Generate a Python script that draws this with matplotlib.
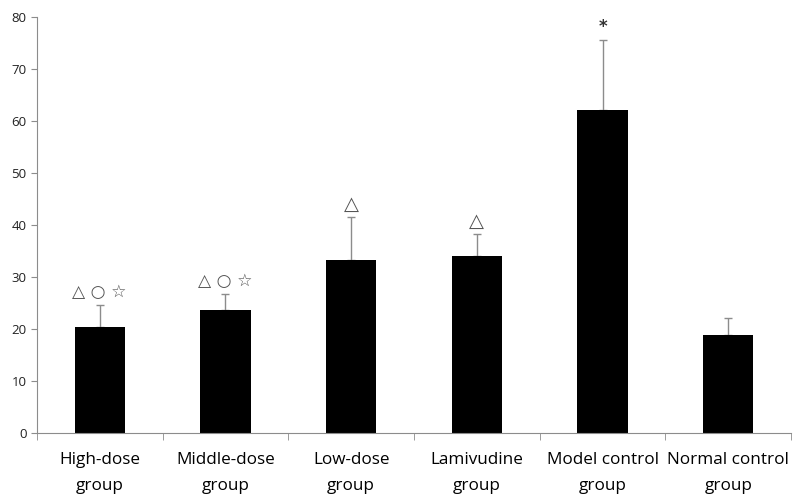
import numpy as np
import matplotlib.pyplot as plt

categories = ["High-dose\ngroup", "Middle-dose\ngroup", "Low-dose\ngroup",
              "Lamivudine\ngroup", "Model control\ngroup", "Normal control\ngroup"]
means = [20.4, 23.6, 33.2, 34.1, 62.1, 18.8]
errors = [4.2, 3.2, 8.3, 4.1, 13.4, 3.3]
marks = ["△ ○ ☆", "△ ○ ☆", "△", "△", "*", ""]

plt.rcParams['font.family'] = ['Open Sans', 'DejaVu Sans']

fig = plt.figure(figsize=(8, 5.01), dpi=100)
ax = fig.add_axes([0.046, 0.136, 0.943, 0.83])

x = np.arange(len(categories))
ax.bar(x, means, width=0.4, color="black", zorder=2)
ax.errorbar(x, means, yerr=[np.zeros(len(means)), errors], fmt="none",
            ecolor="#8c8c8c", elinewidth=1, capsize=3, capthick=1, zorder=1)

for xi, m, e, t in zip(x, means, errors, marks):
    if not t:
        continue
    if t == "*":
        ax.text(xi, m + e + 0.9, t, ha="center", va="bottom", fontsize=12,
                color="#333333", fontweight="bold", family=['DejaVu Sans'])
    elif len(t) > 1:
        ax.text(xi, m + e + 0.7, t, ha="center", va="bottom", fontsize=12.3,
                color="#555555", family=['DejaVu Sans'])
    else:
        ax.text(xi, m + e + 0.6, t, ha="center", va="bottom", fontsize=14,
                color="#555555", family=['DejaVu Sans'])

ax.set_xlim(-0.5, len(categories) - 0.5)
ax.set_ylim(0, 80)
ax.set_yticks(np.arange(0, 81, 10))
ax.set_xticks(x)
ax.set_xticklabels(categories, fontsize=12.3, linespacing=1.8)
ax.set_xticks(np.arange(-0.5, len(categories), 1), minor=True)
ax.tick_params(axis="x", which="major", length=0, pad=14)
ax.tick_params(axis="x", which="minor", length=5, color="#8c8c8c", direction="out")
ax.tick_params(axis="y", length=4, color="#8c8c8c", labelsize=9.5, colors="#222222")
ax.tick_params(axis="x", labelcolor="black")

for s in ["top", "right"]:
    ax.spines[s].set_visible(False)
for s in ["left", "bottom"]:
    ax.spines[s].set_color("#8c8c8c")

fig.savefig("out.png", dpi=100)
